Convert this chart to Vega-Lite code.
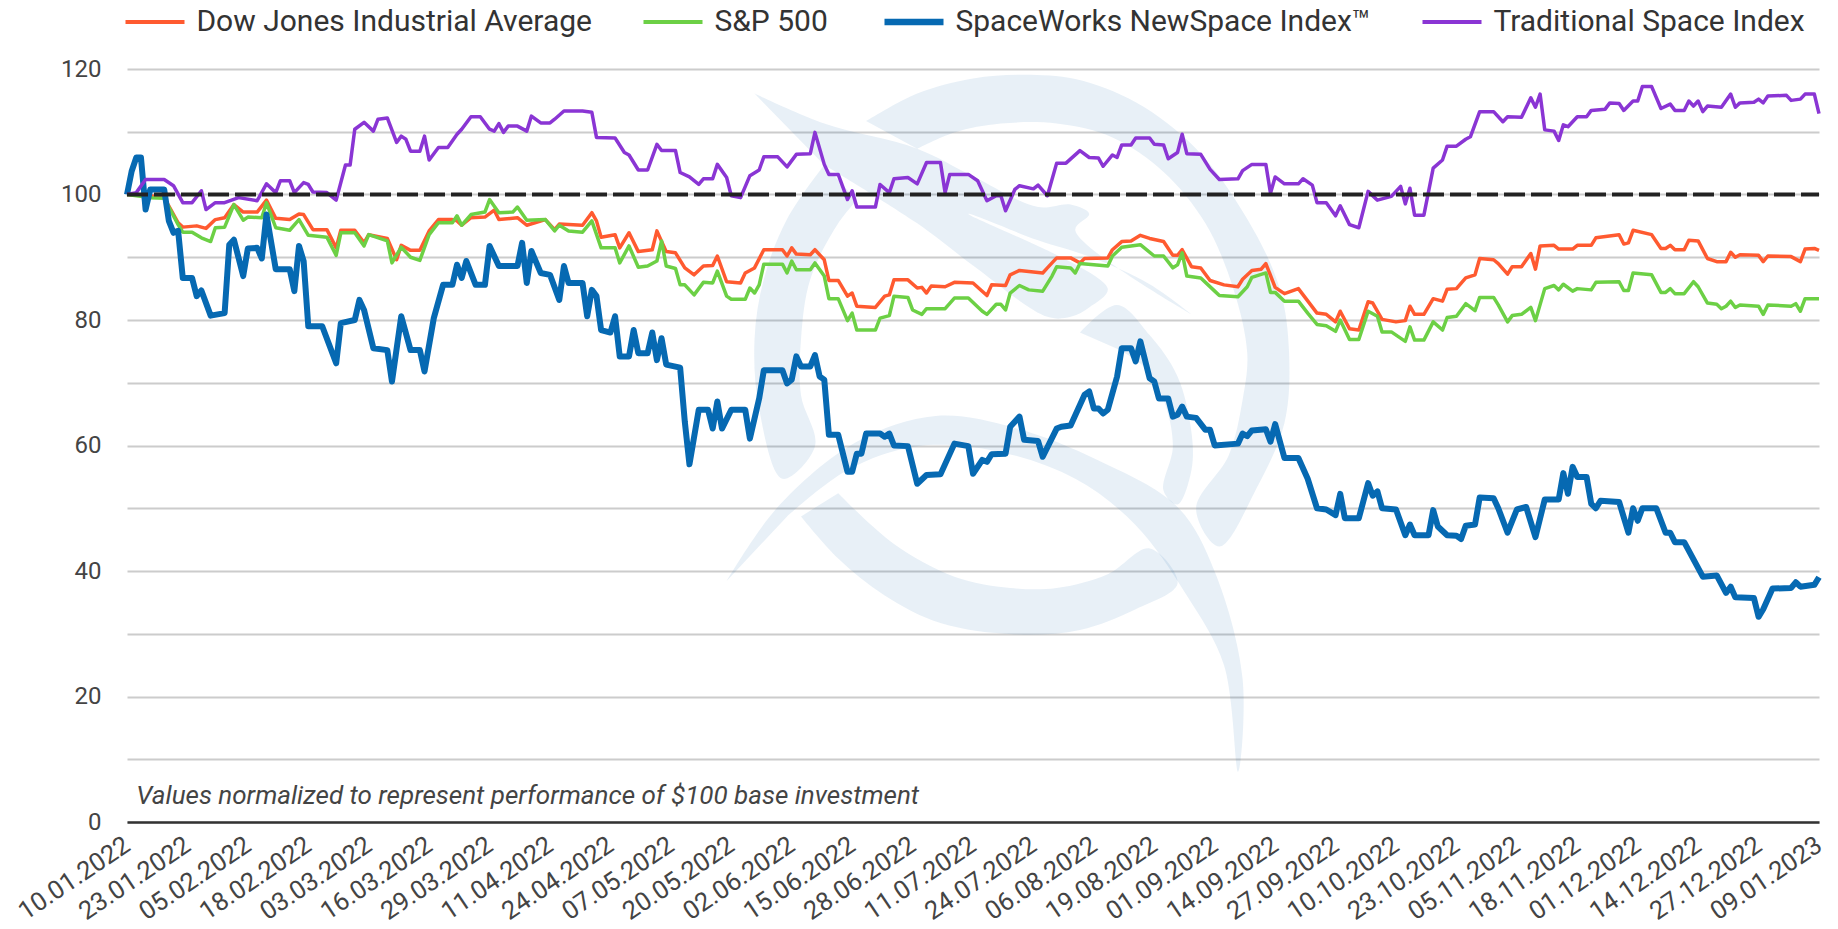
{"$schema":"https://vega.github.io/schema/vega-lite/v6.json","width":1692,"height":753,"autosize":{"type":"none"},"padding":{"left":127,"top":69,"right":19,"bottom":107},"background":"white","config":{"view":{"stroke":null},"font":"Roboto"},
"datasets":{
"base":[{"d":"2022-01-10","v":100},{"d":"2023-01-09","v":100}],
"note":[{"d":"2022-01-12","v":4.2}],
"dow":[{"d":"2022-01-10","v":100},{"d":"2022-01-15","v":99.8},{"d":"2022-01-18","v":99.5},{"d":"2022-01-21","v":95.5},{"d":"2022-01-22","v":94.8},{"d":"2022-01-25","v":95},{"d":"2022-01-27","v":94.6},{"d":"2022-01-29","v":96},{"d":"2022-01-31","v":96.3},{"d":"2022-02-02","v":98.4},{"d":"2022-02-04","v":97.2},{"d":"2022-02-07","v":97.2},{"d":"2022-02-09","v":99.1},{"d":"2022-02-11","v":96.2},{"d":"2022-02-14","v":96},{"d":"2022-02-16","v":96.9},{"d":"2022-02-17","v":96.8},{"d":"2022-02-19","v":94.4},{"d":"2022-02-22","v":94.4},{"d":"2022-02-24","v":91.5},{"d":"2022-02-25","v":94.3},{"d":"2022-02-28","v":94.3},{"d":"2022-03-02","v":92.3},{"d":"2022-03-03","v":93.6},{"d":"2022-03-07","v":93},{"d":"2022-03-09","v":89.6},{"d":"2022-03-10","v":91.9},{"d":"2022-03-12","v":91.1},{"d":"2022-03-14","v":91.1},{"d":"2022-03-16","v":94.2},{"d":"2022-03-18","v":96},{"d":"2022-03-21","v":96},{"d":"2022-03-22","v":95.8},{"d":"2022-03-23","v":95.1},{"d":"2022-03-25","v":96.3},{"d":"2022-03-28","v":96.4},{"d":"2022-03-30","v":97.5},{"d":"2022-03-31","v":96},{"d":"2022-04-04","v":96.3},{"d":"2022-04-06","v":95.1},{"d":"2022-04-10","v":96},{"d":"2022-04-12","v":94.4},{"d":"2022-04-13","v":95.3},{"d":"2022-04-18","v":95.1},{"d":"2022-04-20","v":97.1},{"d":"2022-04-21","v":95.8},{"d":"2022-04-22","v":93.2},{"d":"2022-04-25","v":93.6},{"d":"2022-04-26","v":91.5},{"d":"2022-04-28","v":93.9},{"d":"2022-04-30","v":90.9},{"d":"2022-05-03","v":91.2},{"d":"2022-05-04","v":94.2},{"d":"2022-05-06","v":90.9},{"d":"2022-05-08","v":90.7},{"d":"2022-05-10","v":88.3},{"d":"2022-05-12","v":87.2},{"d":"2022-05-14","v":88.6},{"d":"2022-05-16","v":88.7},{"d":"2022-05-17","v":90.2},{"d":"2022-05-19","v":86.1},{"d":"2022-05-22","v":85.9},{"d":"2022-05-23","v":87.5},{"d":"2022-05-25","v":88.3},{"d":"2022-05-27","v":91.2},{"d":"2022-05-31","v":91.2},{"d":"2022-06-01","v":90.2},{"d":"2022-06-02","v":91.5},{"d":"2022-06-03","v":90.5},{"d":"2022-06-06","v":90.4},{"d":"2022-06-07","v":91.2},{"d":"2022-06-09","v":89.6},{"d":"2022-06-10","v":86.3},{"d":"2022-06-12","v":86.3},{"d":"2022-06-14","v":83.8},{"d":"2022-06-15","v":84.3},{"d":"2022-06-16","v":82.2},{"d":"2022-06-20","v":82},{"d":"2022-06-22","v":83.8},{"d":"2022-06-23","v":84},{"d":"2022-06-24","v":86.4},{"d":"2022-06-27","v":86.4},{"d":"2022-06-29","v":85.1},{"d":"2022-06-30","v":85.2},{"d":"2022-07-01","v":84.3},{"d":"2022-07-02","v":85.4},{"d":"2022-07-05","v":85.3},{"d":"2022-07-07","v":86},{"d":"2022-07-11","v":85.9},{"d":"2022-07-14","v":83.9},{"d":"2022-07-15","v":85.6},{"d":"2022-07-18","v":85.5},{"d":"2022-07-19","v":87.2},{"d":"2022-07-21","v":87.9},{"d":"2022-07-26","v":87.5},{"d":"2022-07-27","v":88.3},{"d":"2022-07-29","v":89.9},{"d":"2022-08-01","v":89.9},{"d":"2022-08-03","v":89.1},{"d":"2022-08-04","v":89.8},{"d":"2022-08-09","v":89.9},{"d":"2022-08-10","v":91.2},{"d":"2022-08-12","v":92.5},{"d":"2022-08-14","v":92.6},{"d":"2022-08-16","v":93.5},{"d":"2022-08-18","v":93},{"d":"2022-08-21","v":92.5},{"d":"2022-08-23","v":90.3},{"d":"2022-08-24","v":90.3},{"d":"2022-08-25","v":91.2},{"d":"2022-08-27","v":88.5},{"d":"2022-08-29","v":88.3},{"d":"2022-08-31","v":86.3},{"d":"2022-09-03","v":85.6},{"d":"2022-09-06","v":85.3},{"d":"2022-09-07","v":86.5},{"d":"2022-09-09","v":87.9},{"d":"2022-09-11","v":88.1},{"d":"2022-09-12","v":89},{"d":"2022-09-14","v":85.2},{"d":"2022-09-16","v":84.2},{"d":"2022-09-19","v":85},{"d":"2022-09-23","v":81.1},{"d":"2022-09-25","v":80.9},{"d":"2022-09-27","v":79.7},{"d":"2022-09-28","v":81.4},{"d":"2022-09-30","v":78.6},{"d":"2022-10-02","v":78.4},{"d":"2022-10-04","v":82.9},{"d":"2022-10-05","v":82.7},{"d":"2022-10-07","v":80.1},{"d":"2022-10-10","v":79.7},{"d":"2022-10-12","v":79.9},{"d":"2022-10-13","v":82.2},{"d":"2022-10-14","v":80.9},{"d":"2022-10-16","v":80.9},{"d":"2022-10-18","v":83.4},{"d":"2022-10-20","v":83},{"d":"2022-10-21","v":84.9},{"d":"2022-10-23","v":85},{"d":"2022-10-25","v":86.7},{"d":"2022-10-27","v":87.2},{"d":"2022-10-28","v":89.8},{"d":"2022-10-31","v":89.6},{"d":"2022-11-01","v":89},{"d":"2022-11-03","v":87.3},{"d":"2022-11-04","v":88.5},{"d":"2022-11-06","v":88.5},{"d":"2022-11-08","v":90.6},{"d":"2022-11-09","v":88.1},{"d":"2022-11-10","v":91.8},{"d":"2022-11-13","v":91.9},{"d":"2022-11-14","v":91.3},{"d":"2022-11-17","v":91.3},{"d":"2022-11-18","v":91.9},{"d":"2022-11-21","v":91.9},{"d":"2022-11-22","v":93.1},{"d":"2022-11-27","v":93.6},{"d":"2022-11-28","v":92.1},{"d":"2022-11-29","v":92.3},{"d":"2022-11-30","v":94.3},{"d":"2022-12-04","v":93.6},{"d":"2022-12-06","v":91.4},{"d":"2022-12-07","v":91.4},{"d":"2022-12-08","v":91.9},{"d":"2022-12-09","v":91.2},{"d":"2022-12-11","v":91.2},{"d":"2022-12-12","v":92.7},{"d":"2022-12-14","v":92.6},{"d":"2022-12-16","v":89.8},{"d":"2022-12-18","v":89.3},{"d":"2022-12-20","v":89.3},{"d":"2022-12-21","v":90.8},{"d":"2022-12-22","v":90},{"d":"2022-12-23","v":90.4},{"d":"2022-12-27","v":90.3},{"d":"2022-12-28","v":89.3},{"d":"2022-12-29","v":90.2},{"d":"2023-01-03","v":90.1},{"d":"2023-01-05","v":89.3},{"d":"2023-01-06","v":91.3},{"d":"2023-01-08","v":91.4},{"d":"2023-01-09","v":91.1}],
"sp":[{"d":"2022-01-10","v":100},{"d":"2022-01-15","v":99.5},{"d":"2022-01-18","v":99.4},{"d":"2022-01-21","v":95.2},{"d":"2022-01-22","v":94},{"d":"2022-01-24","v":94},{"d":"2022-01-26","v":93.1},{"d":"2022-01-28","v":92.5},{"d":"2022-01-29","v":94.7},{"d":"2022-01-31","v":94.8},{"d":"2022-02-02","v":98.4},{"d":"2022-02-04","v":95.9},{"d":"2022-02-05","v":96.4},{"d":"2022-02-08","v":96.3},{"d":"2022-02-09","v":98.7},{"d":"2022-02-11","v":94.7},{"d":"2022-02-14","v":94.3},{"d":"2022-02-16","v":96},{"d":"2022-02-18","v":93.5},{"d":"2022-02-22","v":93.2},{"d":"2022-02-24","v":90.3},{"d":"2022-02-25","v":93.9},{"d":"2022-02-28","v":93.9},{"d":"2022-03-02","v":91.8},{"d":"2022-03-03","v":93.6},{"d":"2022-03-07","v":92.6},{"d":"2022-03-08","v":89.1},{"d":"2022-03-10","v":91.6},{"d":"2022-03-12","v":90},{"d":"2022-03-14","v":89.5},{"d":"2022-03-16","v":93.6},{"d":"2022-03-18","v":95.5},{"d":"2022-03-21","v":95.5},{"d":"2022-03-22","v":96.6},{"d":"2022-03-23","v":95.1},{"d":"2022-03-25","v":96.8},{"d":"2022-03-28","v":97.2},{"d":"2022-03-29","v":99.2},{"d":"2022-03-31","v":97.1},{"d":"2022-04-03","v":97.2},{"d":"2022-04-04","v":98},{"d":"2022-04-06","v":95.9},{"d":"2022-04-10","v":96},{"d":"2022-04-12","v":94.2},{"d":"2022-04-13","v":95.1},{"d":"2022-04-15","v":94.2},{"d":"2022-04-18","v":94},{"d":"2022-04-20","v":95.8},{"d":"2022-04-22","v":91.5},{"d":"2022-04-25","v":91.5},{"d":"2022-04-26","v":89.1},{"d":"2022-04-28","v":91.8},{"d":"2022-04-30","v":88.4},{"d":"2022-05-02","v":88.6},{"d":"2022-05-04","v":89.4},{"d":"2022-05-05","v":92.6},{"d":"2022-05-06","v":88.6},{"d":"2022-05-08","v":88.2},{"d":"2022-05-09","v":85.6},{"d":"2022-05-10","v":85.6},{"d":"2022-05-12","v":84},{"d":"2022-05-14","v":86},{"d":"2022-05-16","v":85.9},{"d":"2022-05-17","v":87.8},{"d":"2022-05-19","v":83.8},{"d":"2022-05-20","v":83.3},{"d":"2022-05-23","v":83.3},{"d":"2022-05-24","v":85.1},{"d":"2022-05-25","v":84.3},{"d":"2022-05-26","v":85.6},{"d":"2022-05-27","v":88.9},{"d":"2022-05-31","v":88.9},{"d":"2022-06-01","v":87.5},{"d":"2022-06-02","v":89.4},{"d":"2022-06-03","v":88},{"d":"2022-06-06","v":88},{"d":"2022-06-07","v":89.1},{"d":"2022-06-09","v":87},{"d":"2022-06-10","v":83.4},{"d":"2022-06-12","v":83.4},{"d":"2022-06-14","v":79.9},{"d":"2022-06-15","v":81.1},{"d":"2022-06-16","v":78.4},{"d":"2022-06-20","v":78.4},{"d":"2022-06-21","v":80.3},{"d":"2022-06-23","v":80.7},{"d":"2022-06-24","v":83.8},{"d":"2022-06-27","v":83.6},{"d":"2022-06-28","v":81.6},{"d":"2022-06-30","v":80.9},{"d":"2022-07-01","v":81.8},{"d":"2022-07-05","v":81.8},{"d":"2022-07-07","v":83.5},{"d":"2022-07-10","v":83.5},{"d":"2022-07-13","v":81.4},{"d":"2022-07-14","v":80.9},{"d":"2022-07-16","v":82.5},{"d":"2022-07-17","v":82.5},{"d":"2022-07-18","v":81.6},{"d":"2022-07-19","v":84.3},{"d":"2022-07-21","v":85.5},{"d":"2022-07-23","v":84.8},{"d":"2022-07-26","v":84.6},{"d":"2022-07-28","v":87},{"d":"2022-07-29","v":88.5},{"d":"2022-08-01","v":88.3},{"d":"2022-08-02","v":87.5},{"d":"2022-08-03","v":89},{"d":"2022-08-09","v":88.6},{"d":"2022-08-10","v":90.2},{"d":"2022-08-12","v":91.6},{"d":"2022-08-16","v":92},{"d":"2022-08-19","v":90.2},{"d":"2022-08-21","v":90.2},{"d":"2022-08-23","v":88.3},{"d":"2022-08-24","v":88.8},{"d":"2022-08-25","v":90.7},{"d":"2022-08-26","v":87},{"d":"2022-08-29","v":86.7},{"d":"2022-09-01","v":84.6},{"d":"2022-09-02","v":83.9},{"d":"2022-09-06","v":83.7},{"d":"2022-09-08","v":85.3},{"d":"2022-09-09","v":86.8},{"d":"2022-09-12","v":87.5},{"d":"2022-09-13","v":84.4},{"d":"2022-09-14","v":84.4},{"d":"2022-09-16","v":83},{"d":"2022-09-19","v":83},{"d":"2022-09-21","v":81.1},{"d":"2022-09-23","v":79.3},{"d":"2022-09-25","v":79.1},{"d":"2022-09-27","v":78.2},{"d":"2022-09-28","v":80},{"d":"2022-09-30","v":76.9},{"d":"2022-10-02","v":76.9},{"d":"2022-10-04","v":81.4},{"d":"2022-10-06","v":80.6},{"d":"2022-10-07","v":78.1},{"d":"2022-10-09","v":78.1},{"d":"2022-10-12","v":76.6},{"d":"2022-10-13","v":78.9},{"d":"2022-10-14","v":76.8},{"d":"2022-10-16","v":76.8},{"d":"2022-10-18","v":79.7},{"d":"2022-10-20","v":78.4},{"d":"2022-10-21","v":80.4},{"d":"2022-10-23","v":80.6},{"d":"2022-10-25","v":82.6},{"d":"2022-10-27","v":81.5},{"d":"2022-10-28","v":83.6},{"d":"2022-10-31","v":83.6},{"d":"2022-11-01","v":82.4},{"d":"2022-11-03","v":79.7},{"d":"2022-11-04","v":80.7},{"d":"2022-11-06","v":80.9},{"d":"2022-11-08","v":82},{"d":"2022-11-09","v":79.9},{"d":"2022-11-11","v":85},{"d":"2022-11-13","v":85.5},{"d":"2022-11-14","v":84.8},{"d":"2022-11-15","v":85.7},{"d":"2022-11-17","v":84.6},{"d":"2022-11-18","v":85},{"d":"2022-11-21","v":84.8},{"d":"2022-11-22","v":86},{"d":"2022-11-27","v":86.1},{"d":"2022-11-28","v":84.7},{"d":"2022-11-29","v":84.7},{"d":"2022-11-30","v":87.5},{"d":"2022-12-04","v":87.2},{"d":"2022-12-06","v":84.4},{"d":"2022-12-07","v":84.4},{"d":"2022-12-08","v":85},{"d":"2022-12-09","v":84.2},{"d":"2022-12-11","v":84.2},{"d":"2022-12-13","v":86.1},{"d":"2022-12-14","v":85.3},{"d":"2022-12-16","v":82.7},{"d":"2022-12-18","v":82.5},{"d":"2022-12-19","v":81.8},{"d":"2022-12-20","v":82.2},{"d":"2022-12-21","v":83},{"d":"2022-12-22","v":82},{"d":"2022-12-23","v":82.4},{"d":"2022-12-27","v":82.2},{"d":"2022-12-28","v":80.9},{"d":"2022-12-29","v":82.4},{"d":"2023-01-03","v":82.2},{"d":"2023-01-04","v":82.6},{"d":"2023-01-05","v":81.4},{"d":"2023-01-06","v":83.4},{"d":"2023-01-09","v":83.4}],
"nsw":[{"d":"2022-01-10","v":100},{"d":"2022-01-11","v":103.7},{"d":"2022-01-12","v":105.9},{"d":"2022-01-13","v":105.9},{"d":"2022-01-14","v":97.6},{"d":"2022-01-15","v":100.8},{"d":"2022-01-18","v":100.8},{"d":"2022-01-19","v":95.8},{"d":"2022-01-20","v":93.9},{"d":"2022-01-21","v":94.2},{"d":"2022-01-22","v":86.7},{"d":"2022-01-24","v":86.7},{"d":"2022-01-25","v":83.8},{"d":"2022-01-26","v":84.7},{"d":"2022-01-28","v":80.7},{"d":"2022-01-31","v":81.1},{"d":"2022-02-01","v":92},{"d":"2022-02-02","v":92.8},{"d":"2022-02-04","v":87},{"d":"2022-02-05","v":91.4},{"d":"2022-02-07","v":91.5},{"d":"2022-02-08","v":89.8},{"d":"2022-02-09","v":96.8},{"d":"2022-02-11","v":88.1},{"d":"2022-02-14","v":88.1},{"d":"2022-02-15","v":84.6},{"d":"2022-02-16","v":91.8},{"d":"2022-02-17","v":89.4},{"d":"2022-02-18","v":79},{"d":"2022-02-21","v":79},{"d":"2022-02-24","v":73.1},{"d":"2022-02-25","v":79.5},{"d":"2022-02-28","v":80},{"d":"2022-03-01","v":83.2},{"d":"2022-03-02","v":81.6},{"d":"2022-03-04","v":75.5},{"d":"2022-03-07","v":75.2},{"d":"2022-03-08","v":70.2},{"d":"2022-03-10","v":80.6},{"d":"2022-03-12","v":75.2},{"d":"2022-03-14","v":75.2},{"d":"2022-03-15","v":71.8},{"d":"2022-03-17","v":80.3},{"d":"2022-03-19","v":85.6},{"d":"2022-03-21","v":85.6},{"d":"2022-03-22","v":88.8},{"d":"2022-03-23","v":86.7},{"d":"2022-03-24","v":89.4},{"d":"2022-03-26","v":85.6},{"d":"2022-03-28","v":85.6},{"d":"2022-03-29","v":91.8},{"d":"2022-03-31","v":88.6},{"d":"2022-04-04","v":88.6},{"d":"2022-04-05","v":92.3},{"d":"2022-04-06","v":85.9},{"d":"2022-04-07","v":91},{"d":"2022-04-09","v":87.5},{"d":"2022-04-11","v":87.2},{"d":"2022-04-13","v":83.2},{"d":"2022-04-14","v":88.6},{"d":"2022-04-15","v":85.9},{"d":"2022-04-18","v":85.9},{"d":"2022-04-19","v":80.6},{"d":"2022-04-20","v":84.8},{"d":"2022-04-21","v":83.8},{"d":"2022-04-22","v":78.4},{"d":"2022-04-24","v":78},{"d":"2022-04-25","v":80.6},{"d":"2022-04-26","v":74.2},{"d":"2022-04-28","v":74.2},{"d":"2022-04-29","v":78.4},{"d":"2022-04-30","v":74.7},{"d":"2022-05-02","v":74.7},{"d":"2022-05-03","v":78},{"d":"2022-05-04","v":73.6},{"d":"2022-05-05","v":77.1},{"d":"2022-05-06","v":72.9},{"d":"2022-05-09","v":72.4},{"d":"2022-05-10","v":63.8},{"d":"2022-05-11","v":57},{"d":"2022-05-13","v":65.7},{"d":"2022-05-15","v":65.7},{"d":"2022-05-16","v":62.7},{"d":"2022-05-17","v":67},{"d":"2022-05-18","v":62.7},{"d":"2022-05-20","v":65.7},{"d":"2022-05-23","v":65.7},{"d":"2022-05-24","v":61.1},{"d":"2022-05-26","v":67.5},{"d":"2022-05-27","v":72},{"d":"2022-05-31","v":72},{"d":"2022-06-01","v":69.9},{"d":"2022-06-02","v":70.5},{"d":"2022-06-03","v":74.2},{"d":"2022-06-04","v":72.6},{"d":"2022-06-06","v":72.6},{"d":"2022-06-07","v":74.4},{"d":"2022-06-08","v":71},{"d":"2022-06-09","v":70.5},{"d":"2022-06-10","v":61.7},{"d":"2022-06-12","v":61.7},{"d":"2022-06-14","v":55.8},{"d":"2022-06-15","v":55.8},{"d":"2022-06-16","v":58.7},{"d":"2022-06-17","v":58.7},{"d":"2022-06-18","v":61.9},{"d":"2022-06-21","v":61.9},{"d":"2022-06-22","v":61.4},{"d":"2022-06-23","v":61.9},{"d":"2022-06-24","v":60},{"d":"2022-06-27","v":59.9},{"d":"2022-06-29","v":53.9},{"d":"2022-07-01","v":55.3},{"d":"2022-07-04","v":55.4},{"d":"2022-07-07","v":60.3},{"d":"2022-07-10","v":59.9},{"d":"2022-07-11","v":55.5},{"d":"2022-07-13","v":57.7},{"d":"2022-07-14","v":57.4},{"d":"2022-07-15","v":58.6},{"d":"2022-07-18","v":58.7},{"d":"2022-07-19","v":63},{"d":"2022-07-21","v":64.6},{"d":"2022-07-22","v":60.9},{"d":"2022-07-25","v":60.7},{"d":"2022-07-26","v":58.2},{"d":"2022-07-29","v":62.7},{"d":"2022-07-30","v":63},{"d":"2022-08-01","v":63.2},{"d":"2022-08-04","v":68.1},{"d":"2022-08-05","v":68.6},{"d":"2022-08-06","v":65.9},{"d":"2022-08-07","v":65.9},{"d":"2022-08-08","v":65.1},{"d":"2022-08-09","v":65.7},{"d":"2022-08-11","v":71},{"d":"2022-08-12","v":75.5},{"d":"2022-08-14","v":75.5},{"d":"2022-08-15","v":73.4},{"d":"2022-08-16","v":76.6},{"d":"2022-08-18","v":70.7},{"d":"2022-08-19","v":70.2},{"d":"2022-08-20","v":67.5},{"d":"2022-08-22","v":67.5},{"d":"2022-08-23","v":64.6},{"d":"2022-08-24","v":64.9},{"d":"2022-08-25","v":66.2},{"d":"2022-08-26","v":64.6},{"d":"2022-08-28","v":64.4},{"d":"2022-08-30","v":62.5},{"d":"2022-08-31","v":62.5},{"d":"2022-09-01","v":60},{"d":"2022-09-06","v":60.3},{"d":"2022-09-07","v":61.9},{"d":"2022-09-08","v":61.5},{"d":"2022-09-09","v":62.4},{"d":"2022-09-12","v":62.6},{"d":"2022-09-13","v":60.6},{"d":"2022-09-14","v":63.4},{"d":"2022-09-16","v":58},{"d":"2022-09-19","v":58},{"d":"2022-09-21","v":54.7},{"d":"2022-09-23","v":50},{"d":"2022-09-25","v":49.8},{"d":"2022-09-27","v":48.9},{"d":"2022-09-28","v":52.3},{"d":"2022-09-29","v":48.4},{"d":"2022-10-02","v":48.4},{"d":"2022-10-04","v":54},{"d":"2022-10-05","v":52},{"d":"2022-10-06","v":52.7},{"d":"2022-10-07","v":50},{"d":"2022-10-10","v":49.8},{"d":"2022-10-12","v":45.7},{"d":"2022-10-13","v":47.4},{"d":"2022-10-14","v":45.7},{"d":"2022-10-17","v":45.7},{"d":"2022-10-18","v":49.7},{"d":"2022-10-19","v":47.1},{"d":"2022-10-21","v":45.7},{"d":"2022-10-23","v":45.6},{"d":"2022-10-24","v":45.1},{"d":"2022-10-25","v":47.2},{"d":"2022-10-27","v":47.4},{"d":"2022-10-28","v":51.7},{"d":"2022-10-31","v":51.6},{"d":"2022-11-01","v":50},{"d":"2022-11-03","v":46.1},{"d":"2022-11-05","v":49.8},{"d":"2022-11-07","v":50.2},{"d":"2022-11-09","v":45.4},{"d":"2022-11-11","v":51.4},{"d":"2022-11-14","v":51.4},{"d":"2022-11-15","v":55.6},{"d":"2022-11-16","v":52.3},{"d":"2022-11-17","v":56.6},{"d":"2022-11-18","v":55},{"d":"2022-11-20","v":55},{"d":"2022-11-21","v":50.7},{"d":"2022-11-22","v":50},{"d":"2022-11-23","v":51.2},{"d":"2022-11-27","v":51},{"d":"2022-11-29","v":46.1},{"d":"2022-11-30","v":50},{"d":"2022-12-01","v":48},{"d":"2022-12-02","v":50},{"d":"2022-12-05","v":50},{"d":"2022-12-07","v":46.1},{"d":"2022-12-08","v":46.1},{"d":"2022-12-09","v":44.6},{"d":"2022-12-11","v":44.6},{"d":"2022-12-15","v":39.1},{"d":"2022-12-18","v":39.3},{"d":"2022-12-20","v":36.5},{"d":"2022-12-21","v":37.5},{"d":"2022-12-22","v":35.8},{"d":"2022-12-26","v":35.7},{"d":"2022-12-27","v":32.7},{"d":"2022-12-28","v":33.9},{"d":"2022-12-30","v":37.2},{"d":"2023-01-03","v":37.3},{"d":"2023-01-04","v":38.2},{"d":"2023-01-05","v":37.5},{"d":"2023-01-08","v":37.8},{"d":"2023-01-09","v":39}],
"trad":[{"d":"2022-01-10","v":100},{"d":"2022-01-12","v":100.3},{"d":"2022-01-14","v":102.4},{"d":"2022-01-18","v":102.4},{"d":"2022-01-20","v":101.4},{"d":"2022-01-22","v":98.7},{"d":"2022-01-24","v":98.7},{"d":"2022-01-26","v":100.6},{"d":"2022-01-27","v":97.6},{"d":"2022-01-29","v":98.7},{"d":"2022-01-31","v":98.7},{"d":"2022-02-03","v":99.5},{"d":"2022-02-07","v":99},{"d":"2022-02-09","v":101.7},{"d":"2022-02-11","v":100.3},{"d":"2022-02-12","v":102.2},{"d":"2022-02-14","v":102.2},{"d":"2022-02-15","v":100.3},{"d":"2022-02-17","v":101.9},{"d":"2022-02-18","v":101.6},{"d":"2022-02-19","v":100.4},{"d":"2022-02-22","v":100.3},{"d":"2022-02-24","v":99.1},{"d":"2022-02-26","v":104.7},{"d":"2022-02-27","v":104.7},{"d":"2022-02-28","v":110.4},{"d":"2022-03-02","v":111.5},{"d":"2022-03-04","v":110.1},{"d":"2022-03-05","v":112},{"d":"2022-03-07","v":112.2},{"d":"2022-03-09","v":108.3},{"d":"2022-03-10","v":109.3},{"d":"2022-03-11","v":108.8},{"d":"2022-03-12","v":106.9},{"d":"2022-03-14","v":106.9},{"d":"2022-03-15","v":109.3},{"d":"2022-03-16","v":105.5},{"d":"2022-03-18","v":107.5},{"d":"2022-03-20","v":107.5},{"d":"2022-03-22","v":109.6},{"d":"2022-03-23","v":110.4},{"d":"2022-03-25","v":112.4},{"d":"2022-03-27","v":112.4},{"d":"2022-03-29","v":110.4},{"d":"2022-03-30","v":110.1},{"d":"2022-03-31","v":111.3},{"d":"2022-04-01","v":109.9},{"d":"2022-04-02","v":110.9},{"d":"2022-04-04","v":110.9},{"d":"2022-04-06","v":110.1},{"d":"2022-04-07","v":112.5},{"d":"2022-04-09","v":111.4},{"d":"2022-04-11","v":111.4},{"d":"2022-04-12","v":112},{"d":"2022-04-14","v":113.3},{"d":"2022-04-18","v":113.3},{"d":"2022-04-20","v":113.1},{"d":"2022-04-21","v":109.1},{"d":"2022-04-25","v":109},{"d":"2022-04-27","v":106.7},{"d":"2022-04-28","v":106.3},{"d":"2022-04-30","v":103.9},{"d":"2022-05-02","v":103.9},{"d":"2022-05-04","v":108},{"d":"2022-05-05","v":107},{"d":"2022-05-08","v":107},{"d":"2022-05-09","v":103.5},{"d":"2022-05-11","v":102.8},{"d":"2022-05-13","v":101.6},{"d":"2022-05-14","v":102.5},{"d":"2022-05-16","v":102.5},{"d":"2022-05-17","v":104.8},{"d":"2022-05-19","v":102.7},{"d":"2022-05-20","v":99.8},{"d":"2022-05-22","v":99.5},{"d":"2022-05-24","v":103},{"d":"2022-05-26","v":103.9},{"d":"2022-05-27","v":106},{"d":"2022-05-30","v":106},{"d":"2022-06-01","v":104.4},{"d":"2022-06-03","v":106.4},{"d":"2022-06-06","v":106.5},{"d":"2022-06-07","v":109.9},{"d":"2022-06-09","v":104.8},{"d":"2022-06-10","v":103.2},{"d":"2022-06-12","v":103.2},{"d":"2022-06-14","v":99.2},{"d":"2022-06-15","v":100.6},{"d":"2022-06-16","v":98},{"d":"2022-06-20","v":98},{"d":"2022-06-21","v":101.6},{"d":"2022-06-23","v":100.3},{"d":"2022-06-24","v":102.5},{"d":"2022-06-27","v":102.7},{"d":"2022-06-29","v":101.7},{"d":"2022-07-01","v":105.1},{"d":"2022-07-04","v":105.1},{"d":"2022-07-05","v":100.3},{"d":"2022-07-06","v":103.2},{"d":"2022-07-10","v":103.2},{"d":"2022-07-12","v":102.2},{"d":"2022-07-14","v":99},{"d":"2022-07-16","v":99.8},{"d":"2022-07-17","v":99.8},{"d":"2022-07-18","v":97.4},{"d":"2022-07-20","v":100.8},{"d":"2022-07-21","v":101.4},{"d":"2022-07-24","v":100.9},{"d":"2022-07-25","v":101.5},{"d":"2022-07-27","v":99.8},{"d":"2022-07-29","v":105},{"d":"2022-07-31","v":105},{"d":"2022-08-03","v":107},{"d":"2022-08-05","v":105.9},{"d":"2022-08-07","v":105.8},{"d":"2022-08-08","v":104.5},{"d":"2022-08-10","v":106.3},{"d":"2022-08-11","v":105.9},{"d":"2022-08-12","v":107.9},{"d":"2022-08-14","v":107.9},{"d":"2022-08-15","v":109},{"d":"2022-08-18","v":109},{"d":"2022-08-19","v":108},{"d":"2022-08-21","v":107.9},{"d":"2022-08-22","v":105.7},{"d":"2022-08-24","v":106.7},{"d":"2022-08-25","v":109.6},{"d":"2022-08-26","v":106.5},{"d":"2022-08-29","v":106.4},{"d":"2022-08-31","v":104},{"d":"2022-09-02","v":102.4},{"d":"2022-09-06","v":102.5},{"d":"2022-09-07","v":103.8},{"d":"2022-09-09","v":104.8},{"d":"2022-09-12","v":104.8},{"d":"2022-09-13","v":100.2},{"d":"2022-09-14","v":102.8},{"d":"2022-09-16","v":101.7},{"d":"2022-09-19","v":101.7},{"d":"2022-09-20","v":102.5},{"d":"2022-09-22","v":101.5},{"d":"2022-09-23","v":98.7},{"d":"2022-09-25","v":98.7},{"d":"2022-09-27","v":96.6},{"d":"2022-09-28","v":98.2},{"d":"2022-09-30","v":95.2},{"d":"2022-10-02","v":94.7},{"d":"2022-10-04","v":100.5},{"d":"2022-10-06","v":99.1},{"d":"2022-10-09","v":99.7},{"d":"2022-10-11","v":101.3},{"d":"2022-10-12","v":98.5},{"d":"2022-10-13","v":101},{"d":"2022-10-14","v":96.7},{"d":"2022-10-16","v":96.7},{"d":"2022-10-18","v":104.2},{"d":"2022-10-20","v":105.5},{"d":"2022-10-21","v":107.7},{"d":"2022-10-23","v":107.7},{"d":"2022-10-25","v":108.8},{"d":"2022-10-26","v":109.2},{"d":"2022-10-28","v":113.2},{"d":"2022-10-31","v":113.2},{"d":"2022-11-02","v":111.6},{"d":"2022-11-03","v":112.4},{"d":"2022-11-06","v":112.3},{"d":"2022-11-08","v":115.4},{"d":"2022-11-09","v":113.9},{"d":"2022-11-10","v":116},{"d":"2022-11-11","v":110.3},{"d":"2022-11-13","v":110.1},{"d":"2022-11-14","v":108.6},{"d":"2022-11-15","v":111.1},{"d":"2022-11-16","v":110.8},{"d":"2022-11-18","v":112.4},{"d":"2022-11-20","v":112.4},{"d":"2022-11-21","v":113.4},{"d":"2022-11-24","v":113.6},{"d":"2022-11-25","v":114.6},{"d":"2022-11-27","v":114.5},{"d":"2022-11-28","v":113.4},{"d":"2022-11-30","v":114.9},{"d":"2022-12-01","v":114.9},{"d":"2022-12-02","v":117.2},{"d":"2022-12-04","v":117.2},{"d":"2022-12-06","v":113.7},{"d":"2022-12-08","v":114.4},{"d":"2022-12-09","v":113.4},{"d":"2022-12-11","v":113.4},{"d":"2022-12-12","v":114.9},{"d":"2022-12-13","v":114.1},{"d":"2022-12-14","v":114.9},{"d":"2022-12-15","v":113.2},{"d":"2022-12-16","v":114.1},{"d":"2022-12-19","v":113.9},{"d":"2022-12-21","v":116},{"d":"2022-12-22","v":113.9},{"d":"2022-12-23","v":114.6},{"d":"2022-12-26","v":114.7},{"d":"2022-12-27","v":115.2},{"d":"2022-12-28","v":114.6},{"d":"2022-12-29","v":115.7},{"d":"2023-01-02","v":115.8},{"d":"2023-01-03","v":115},{"d":"2023-01-05","v":115.2},{"d":"2023-01-06","v":116},{"d":"2023-01-08","v":116},{"d":"2023-01-09","v":112.9}],
"logo":[{"p":"a","o":1,"d":"2022-06-18","v":111.7},{"p":"a","o":2,"d":"2022-06-29","v":116.1},{"p":"a","o":3,"d":"2022-07-11","v":118.5},{"p":"a","o":4,"d":"2022-07-22","v":119.1},{"p":"a","o":5,"d":"2022-08-02","v":118.4},{"p":"a","o":6,"d":"2022-08-15","v":114.7},{"p":"a","o":7,"d":"2022-08-28","v":107.3},{"p":"a","o":8,"d":"2022-09-08","v":96.1},{"p":"a","o":9,"d":"2022-09-15","v":85},{"p":"a","o":10,"d":"2022-09-17","v":74.7},{"p":"a","o":11,"d":"2022-09-16","v":63.6},{"p":"a","o":12,"d":"2022-09-10","v":53.2},{"p":"a","o":13,"d":"2022-09-02","v":43.9},{"p":"a","o":14,"d":"2022-08-28","v":49.9},{"p":"a","o":15,"d":"2022-09-04","v":58.4},{"p":"a","o":16,"d":"2022-09-07","v":67.3},{"p":"a","o":17,"d":"2022-09-08","v":74.7},{"p":"a","o":18,"d":"2022-09-05","v":85},{"p":"a","o":19,"d":"2022-08-30","v":95.4},{"p":"a","o":20,"d":"2022-08-21","v":103.6},{"p":"a","o":21,"d":"2022-08-10","v":109.1},{"p":"a","o":22,"d":"2022-07-29","v":111.3},{"p":"a","o":23,"d":"2022-07-17","v":111.3},{"p":"a","o":24,"d":"2022-07-07","v":109.9},{"p":"a","o":25,"d":"2022-06-29","v":107.3},{"p":"b","o":1,"d":"2022-06-09","v":104.7},{"p":"b","o":2,"d":"2022-06-01","v":96.1},{"p":"b","o":3,"d":"2022-05-27","v":86.5},{"p":"b","o":4,"d":"2022-05-25","v":76.9},{"p":"b","o":5,"d":"2022-05-26","v":65.8},{"p":"b","o":6,"d":"2022-05-31","v":54.7},{"p":"b","o":7,"d":"2022-06-07","v":59.9},{"p":"b","o":8,"d":"2022-06-04","v":68},{"p":"b","o":9,"d":"2022-06-04","v":76.9},{"p":"b","o":10,"d":"2022-06-06","v":86.5},{"p":"b","o":11,"d":"2022-06-12","v":95.4},{"p":"b","o":12,"d":"2022-06-16","v":99.1},{"p":"c","o":1,"d":"2022-06-04","v":48.7},{"p":"c","o":2,"d":"2022-06-12","v":42},{"p":"c","o":3,"d":"2022-06-22","v":36.1},{"p":"c","o":4,"d":"2022-07-04","v":31.7},{"p":"c","o":5,"d":"2022-07-20","v":29.9},{"p":"c","o":6,"d":"2022-08-03","v":30.6},{"p":"c","o":7,"d":"2022-08-15","v":33.9},{"p":"c","o":8,"d":"2022-08-24","v":38},{"p":"c","o":9,"d":"2022-08-18","v":43.6},{"p":"c","o":10,"d":"2022-08-09","v":39.5},{"p":"c","o":11,"d":"2022-07-29","v":37.3},{"p":"c","o":12,"d":"2022-07-19","v":37.3},{"p":"c","o":13,"d":"2022-07-07","v":39.1},{"p":"c","o":14,"d":"2022-06-24","v":44.3},{"p":"c","o":15,"d":"2022-06-12","v":52.4},{"p":"e","o":1,"d":"2022-08-03","v":78},{"p":"e","o":2,"d":"2022-08-11","v":82.4},{"p":"e","o":3,"d":"2022-08-18","v":77.6},{"p":"e","o":4,"d":"2022-08-24","v":71},{"p":"e","o":5,"d":"2022-08-27","v":62.1},{"p":"e","o":6,"d":"2022-08-27","v":56.1},{"p":"e","o":7,"d":"2022-08-24","v":50.6},{"p":"e","o":8,"d":"2022-08-21","v":52.8},{"p":"e","o":9,"d":"2022-08-23","v":59.9},{"p":"e","o":10,"d":"2022-08-21","v":67.3},{"p":"e","o":11,"d":"2022-08-17","v":72.4},{"p":"e","o":12,"d":"2022-08-11","v":75.4},{"p":"f","o":1,"d":"2022-05-19","v":38.4},{"p":"f","o":2,"d":"2022-05-30","v":50.2},{"p":"f","o":3,"d":"2022-06-16","v":60.6},{"p":"f","o":4,"d":"2022-07-03","v":64.7},{"p":"f","o":5,"d":"2022-07-20","v":62.8},{"p":"f","o":6,"d":"2022-08-07","v":57.6},{"p":"f","o":7,"d":"2022-08-24","v":50.2},{"p":"f","o":8,"d":"2022-09-01","v":39.9},{"p":"f","o":9,"d":"2022-09-07","v":22.8},{"p":"f","o":10,"d":"2022-09-06","v":8},{"p":"f","o":11,"d":"2022-09-03","v":25},{"p":"f","o":12,"d":"2022-08-26","v":36.1},{"p":"f","o":13,"d":"2022-08-15","v":47.3},{"p":"f","o":14,"d":"2022-08-02","v":54.7},{"p":"f","o":15,"d":"2022-07-16","v":59.1},{"p":"f","o":16,"d":"2022-06-29","v":59.9},{"p":"f","o":17,"d":"2022-06-14","v":56.1},{"p":"f","o":18,"d":"2022-06-01","v":48.7},{"p":"g","o":1,"d":"2022-05-25","v":116.1},{"p":"g","o":2,"d":"2022-06-09","v":111.3},{"p":"g","o":3,"d":"2022-06-29","v":107.3},{"p":"g","o":4,"d":"2022-07-11","v":102.9},{"p":"g","o":5,"d":"2022-07-25","v":98},{"p":"g","o":6,"d":"2022-08-01","v":98.4},{"p":"g","o":7,"d":"2022-08-05","v":96.9},{"p":"g","o":8,"d":"2022-08-02","v":94.3},{"p":"g","o":9,"d":"2022-08-27","v":80.9},{"p":"g","o":10,"d":"2022-08-18","v":85.7},{"p":"g","o":11,"d":"2022-08-05","v":90.1},{"p":"g","o":12,"d":"2022-07-25","v":92.7},{"p":"g","o":13,"d":"2022-07-10","v":96.9},{"p":"g","o":14,"d":"2022-08-09","v":85},{"p":"g","o":15,"d":"2022-08-05","v":82},{"p":"g","o":16,"d":"2022-08-01","v":80.5},{"p":"g","o":17,"d":"2022-07-27","v":80.5},{"p":"g","o":18,"d":"2022-07-11","v":88.7},{"p":"g","o":19,"d":"2022-06-29","v":95.4},{"p":"g","o":20,"d":"2022-06-09","v":104.7}]
},
"encoding":{
"x":{"field":"d","type":"temporal","title":null,"scale":{"type":"utc","domain":["2022-01-10","2023-01-09"]},"axis":{"values":["2022-01-10","2022-01-23","2022-02-05","2022-02-18","2022-03-03","2022-03-16","2022-03-29","2022-04-11","2022-04-24","2022-05-07","2022-05-20","2022-06-02","2022-06-15","2022-06-28","2022-07-11","2022-07-24","2022-08-06","2022-08-19","2022-09-01","2022-09-14","2022-09-27","2022-10-10","2022-10-23","2022-11-05","2022-11-18","2022-12-01","2022-12-14","2022-12-27","2023-01-09"],"format":"%d.%m.%Y","labelAngle":-34,"labelAlign":"right","labelBaseline":"middle","labelFontSize":25.5,"labelColor":"#444","labelOverlap":false,"labelBound":false,"labelFlush":false,"labelPadding":20,"ticks":false,"grid":false,"domain":true,"domainColor":"#333","domainWidth":2.5}},
"y":{"field":"v","type":"quantitative","title":null,"scale":{"domain":[0,120],"nice":false},"axis":{"values":[0,10,20,30,40,50,60,70,80,90,100,110,120],"labelExpr":"datum.value % 20 == 0 ? datum.label : ''","labelFontSize":24,"labelColor":"#444","labelPadding":26,"ticks":false,"domain":false,"grid":true,"gridColor":"#ccc","gridWidth":2}}
},
"layer":[
{"data":{"name":"logo"},"mark":{"type":"line","fill":"#0b62a8","fillOpacity":0.095,"strokeWidth":0,"interpolate":"catmull-rom"},"encoding":{"detail":{"field":"p"},"order":{"field":"o","type":"quantitative"}}},
{"data":{"name":"dow"},"mark":{"type":"line","interpolate":"linear","strokeJoin":"round","strokeWidth":3.5},"encoding":{"color":{"datum":"Dow Jones Industrial Average","scale":{"domain":["Dow Jones Industrial Average","S&P 500","SpaceWorks NewSpace Index™","Traditional Space Index"],"range":["#FF5A30","#6CD045","#0669B2","#8A35D4"]},"legend":{"title":null,"orient":"none","legendX":13,"legendY":-62,"direction":"horizontal","columns":4,"symbolType":"stroke","symbolSize":3481,"symbolStrokeWidth":4,"labelFontSize":30,"labelColor":"#333","labelFont":"Roboto","labelOffset":26.4,"columnPadding":43,"padding":0,"labelLimit":0,"encode":{"symbols":{"update":{"strokeWidth":{"signal":"datum.value === 'SpaceWorks NewSpace Index™' ? 6.5 : 4"}}}}}}}},
{"data":{"name":"sp"},"mark":{"type":"line","interpolate":"linear","strokeJoin":"round","strokeWidth":3.5},"encoding":{"color":{"datum":"S&P 500"}}},
{"data":{"name":"nsw"},"mark":{"type":"line","interpolate":"linear","strokeJoin":"round","strokeWidth":6},"encoding":{"color":{"datum":"SpaceWorks NewSpace Index™"}}},
{"data":{"name":"trad"},"mark":{"type":"line","interpolate":"linear","strokeJoin":"round","strokeWidth":3.5},"encoding":{"color":{"datum":"Traditional Space Index"}}},
{"data":{"name":"base"},"mark":{"type":"line","color":"#222","strokeWidth":4,"strokeDash":[21,6]}},
{"data":{"name":"note"},"mark":{"type":"text","text":"Values normalized to represent performance of $100 base investment","font":"Roboto","fontStyle":"italic","fontSize":26,"color":"#444","align":"left","baseline":"middle"}}
]}
